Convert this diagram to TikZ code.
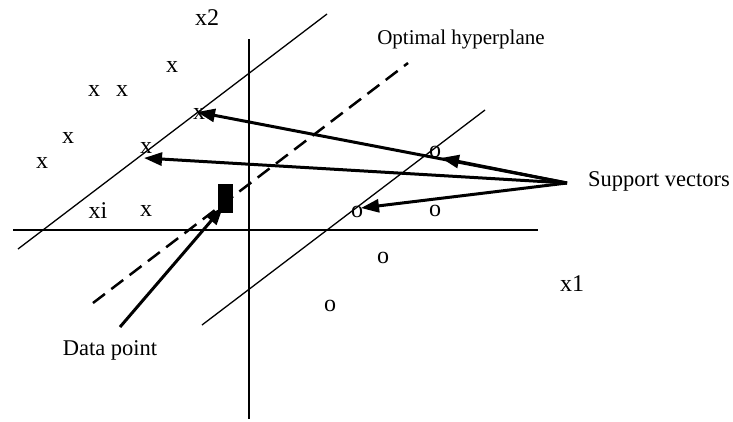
\documentclass[tikz,border=0pt]{standalone}
\usepackage{fontspec}
\setmainfont{Liberation Serif}
\usetikzlibrary{arrows.meta}
\begin{document}
\begin{tikzpicture}[x=1pt,y=-1pt,
  thinline/.style={line width=1.3pt},
  boldarrow/.style={line width=3pt,-{Triangle[length=18pt,width=13pt]}},
  ptx/.style={font=\fontsize{24}{24}\selectfont, inner sep=0pt},
  lbl/.style={font=\fontsize{#1}{#1}\selectfont, inner sep=0pt},
  lbl/.default=22]
\useasboundingbox (0,0) rectangle (733,421);
% axes
\coordinate (hl) at (13,230); \coordinate (hr) at (538,230);
\coordinate (vt) at (249,39);  \coordinate (vb) at (249,419);
\draw[thinline] (hl) -- (hr);
\draw[thinline] (vt) -- (vb);
% margins
\coordinate (ua) at (18,249); \coordinate (ub) at (327,14);
\coordinate (la) at (202,325); \coordinate (lb) at (485,110);
\coordinate (da) at (93,303); \coordinate (db) at (408,63);
\draw[thinline] (ua) -- (ub);
\draw[thinline] (la) -- (lb);
\draw[line width=2.5pt, dash pattern=on 15pt off 8pt] (da) -- (db);
% x markers
\node[ptx] (x1) at (172,67) {x};
\node[ptx] (x2) at (94,91) {x};
\node[ptx] (x3) at (122,91) {x};
\node[ptx] (x4) at (68,138) {x};
\node[ptx] (x5) at (42,163) {x};
\node[ptx] (x6) at (146,148) {x};
\node[ptx] (x7) at (199,114) {x};
\node[ptx] (xi) at (98,211) {xi};
\node[ptx] (x8) at (146,211) {x};
% o markers
\node[ptx] (o1) at (435,152) {o};
\node[ptx] (o2) at (357,212) {o};
\node[ptx] (o3) at (435,211) {o};
\node[ptx] (o4) at (383,258) {o};
\node[ptx] (o5) at (330,306) {o};
% data point
\node[fill=black, minimum width=15pt, minimum height=29pt, inner sep=0pt] (dp) at (225.5,198.5) {};
% labels
\node[lbl=24] (lx2) at (207,18) {x2};
\node[lbl=24] (lx1) at (572,284) {x1};
\node[lbl=21] (lopt) at (461,39) {Optimal hyperplane};
\node[lbl=22.5] (lsv) at (659,181) {Support vectors};
\node[lbl=22.5] (ldp) at (110,350) {Data point};
% arrows
\coordinate (sv) at (567,183);
\coordinate (t1) at (197,112);
\coordinate (t2) at (144,158);
\coordinate (t3) at (441,158);
\coordinate (t4) at (361,208);
\coordinate (dps) at (120,327);
\coordinate (dpt) at (223,207);
\draw[boldarrow] (sv) -- (t1);
\draw[boldarrow] (sv) -- (t2);
\draw[boldarrow] (sv) -- (t3);
\draw[boldarrow] (sv) -- (t4);
\draw[boldarrow] (dps) -- (dpt);
\end{tikzpicture}
\end{document}
